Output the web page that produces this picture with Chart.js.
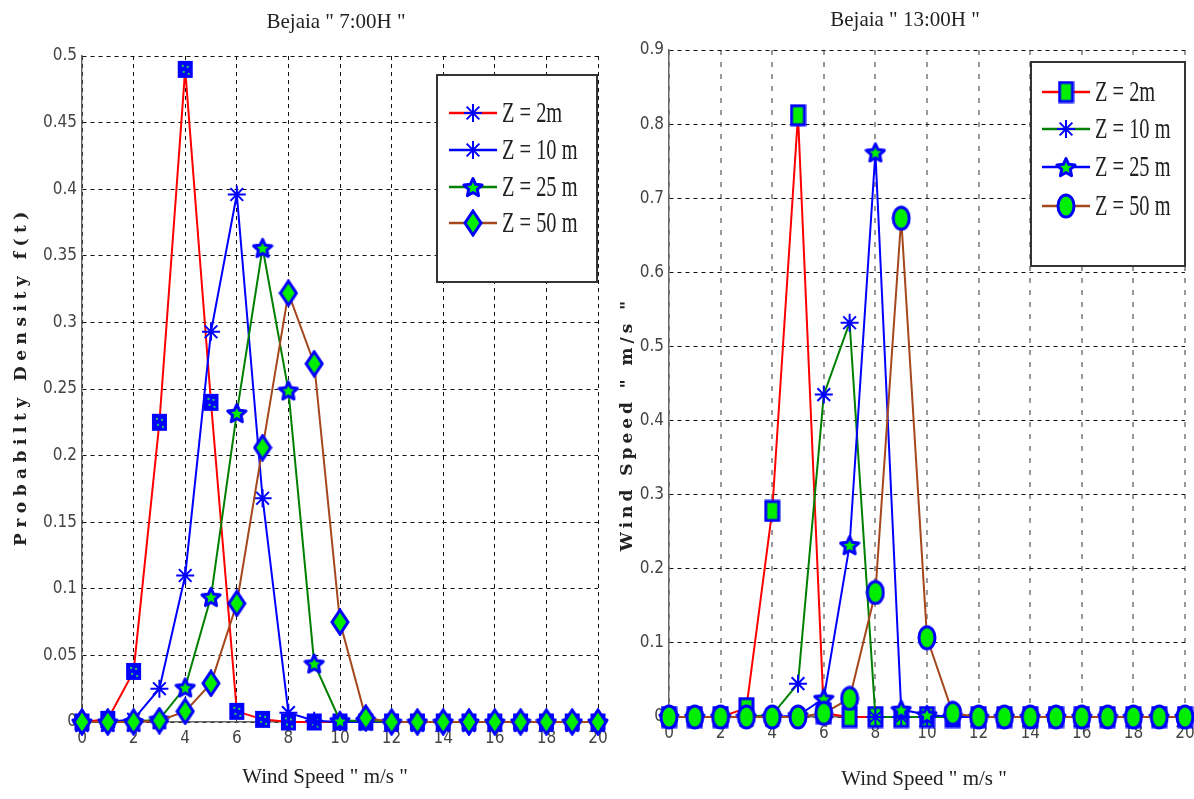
<!DOCTYPE html>
<html>
<head>
<meta charset="utf-8">
<script src="https://cdn.jsdelivr.net/npm/chart.js@4.4.0/dist/chart.umd.min.js"></script>
<style>
    html, body { margin: 0; padding: 0; background: #fff; overflow: hidden; }
    #wrap { position: relative; width: 1194px; height: 799px; overflow: hidden; }
    canvas { position: absolute; top: 0; }
    #c1 { left: 0; }
    #c2 { left: 605px; }
</style>
</head>
<body>
<div id="wrap">
    <canvas id="c1" width="609" height="799"></canvas>
    <canvas id="c2" width="591" height="799"></canvas>
</div>
<script>
// vitesses du vent (m/s)
const windSpeed = [0, 1, 2, 3, 4, 5, 6, 7, 8, 9, 10, 11, 12, 13, 14, 15, 16, 17, 18, 19, 20];
const seriesLabels = ['Z = 2m', 'Z = 10 m', 'Z = 25 m', 'Z = 50 m'];

// Bejaia 7:00H
const morning2m  = [0, 0.002, 0.038, 0.225, 0.49, 0.24, 0.008, 0.002, 0, 0, 0, 0, 0, 0, 0, 0, 0, 0, 0, 0, 0];
const morning10m = [0, 0, 0.002, 0.025, 0.11, 0.293, 0.396, 0.168, 0.007, 0.001, 0, 0, 0, 0, 0, 0, 0, 0, 0, 0, 0];
const morning25m = [0, 0, 0, 0.002, 0.026, 0.094, 0.232, 0.356, 0.249, 0.044, 0.001, 0.001, 0, 0, 0, 0, 0, 0, 0, 0, 0];
const morning50m = [0, 0, 0, 0.001, 0.008, 0.029, 0.089, 0.206, 0.322, 0.269, 0.075, 0.003, 0, 0, 0, 0, 0, 0, 0, 0, 0];

// Bejaia 13:00H
const noon2m  = [0, 0, 0, 0.012, 0.278, 0.812, 0.005, 0, 0, 0, 0, 0, 0, 0, 0, 0, 0, 0, 0, 0, 0];
const noon10m = [0, 0, 0, 0, 0.003, 0.045, 0.435, 0.532, 0, 0, 0, 0, 0, 0, 0, 0, 0, 0, 0, 0, 0];
const noon25m = [0, 0, 0, 0, 0, 0.002, 0.025, 0.232, 0.762, 0.01, 0.003, 0, 0, 0, 0, 0, 0, 0, 0, 0, 0];
const noon50m = [0, 0, 0, 0, 0, 0, 0.005, 0.025, 0.168, 0.673, 0.107, 0.005, 0, 0, 0, 0, 0, 0, 0, 0, 0];

const BLUE = '#0000ff';
const GREEN = '#00ee00';
const RED = '#ff0000';
const DKGREEN = '#008000';
const BROWN = '#a5471d';

function makeMarker(w, h, draw) {
    const c = document.createElement('canvas');
    c.width = w;
    c.height = h;
    draw(c.getContext('2d'), w, h);
    return c;
}

function pentagramPath(g, cx, cy, ro, ri) {
    g.beginPath();
    for (let i = 0; i < 10; i++) {
        const r = i % 2 === 0 ? ro : ri;
        const ang = -Math.PI / 2 + i * Math.PI / 5;
        const px = cx + r * Math.cos(ang), py = cy + r * Math.sin(ang);
        if (i === 0) g.moveTo(px, py); else g.lineTo(px, py);
    }
    g.closePath();
}

const pentagram = makeMarker(22, 22, (g, w, h) => {
    pentagramPath(g, w / 2, h / 2 + 1, 9.5, 4.5);
    g.fillStyle = GREEN;
    g.fill();
    g.strokeStyle = BLUE;
    g.lineWidth = 3;
    g.lineJoin = 'round';
    g.stroke();
});

const tallDiamond = makeMarker(20, 28, (g, w, h) => {
    g.beginPath();
    g.moveTo(w / 2, 2); g.lineTo(w - 2, h / 2); g.lineTo(w / 2, h - 2); g.lineTo(2, h / 2);
    g.closePath();
    g.fillStyle = GREEN;
    g.fill();
    g.strokeStyle = BLUE;
    g.lineWidth = 3;
    g.stroke();
});

const blueSquare = makeMarker(17, 19, (g, w, h) => {
    g.fillStyle = BLUE;
    g.fillRect(1, 1, w - 2, h - 2);
    g.fillStyle = '#22cc66';
    [[5, 5], [10, 6], [6, 11], [11, 13]].forEach(p => g.fillRect(p[0], p[1], 2, 2));
});

const greenRect = makeMarker(17, 23, (g, w, h) => {
    g.fillStyle = GREEN;
    g.fillRect(2, 2, w - 4, h - 4);
    g.strokeStyle = BLUE;
    g.lineWidth = 3;
    g.strokeRect(2, 2, w - 4, h - 4);
});

const greenEllipse = makeMarker(20, 26, (g, w, h) => {
    g.beginPath();
    g.ellipse(w / 2, h / 2, w / 2 - 2, h / 2 - 2, 0, 0, Math.PI * 2);
    g.fillStyle = GREEN;
    g.fill();
    g.strokeStyle = BLUE;
    g.lineWidth = 3;
    g.stroke();
});

function drawMarker(ctx, style, x, y) {
    if (style && typeof style === 'object') {
        ctx.drawImage(style, x - style.width / 2, y - style.height / 2);
        return;
    }
    // asterisque
    const r = 9;
    ctx.save();
    ctx.strokeStyle = BLUE;
    ctx.lineWidth = 2;
    ctx.beginPath();
    for (let i = 0; i < 4; i++) {
        const ang = i * Math.PI / 4;
        ctx.moveTo(x - r * Math.cos(ang), y - r * Math.sin(ang));
        ctx.lineTo(x + r * Math.cos(ang), y + r * Math.sin(ang));
    }
    ctx.stroke();
    ctx.restore();
}

// titres, légende
const decor = {
    id: 'decor',
    afterDraw(chart, args, o) {
        const ctx = chart.ctx;
        const a = chart.chartArea;
        ctx.save();
        ctx.fillStyle = '#222';
        ctx.textAlign = 'center';
        ctx.textBaseline = 'middle';
        ctx.font = '21px "Liberation Serif", serif';
        ctx.fillText(o.title, o.titleX, o.titleY);
        ctx.fillText(o.xTitle, o.xTitleX, o.xTitleY);

        ctx.save();
        ctx.translate(o.yTitleX, o.yTitleY);
        ctx.rotate(-Math.PI / 2);
        ctx.font = 'bold 17px "DejaVu Serif", serif';
        ctx.letterSpacing = o.yTitleSpacing;
        ctx.fillText(o.yTitle, 0, 0);
        ctx.restore();

        const L = o.legend;
        const bx = a.right - L.right - L.width;
        const by = a.top + L.top;
        ctx.fillStyle = '#fff';
        ctx.fillRect(bx, by, L.width, L.height);
        ctx.strokeStyle = '#333';
        ctx.lineWidth = 2;
        ctx.strokeRect(bx, by, L.width, L.height);

        chart.data.datasets.forEach((ds, i) => {
            const y = by + L.rows[i];
            ctx.strokeStyle = ds.borderColor;
            ctx.lineWidth = 2.5;
            ctx.beginPath();
            ctx.moveTo(bx + L.lineFrom, y);
            ctx.lineTo(bx + L.lineTo, y);
            ctx.stroke();
            drawMarker(ctx, ds.legendMarker || ds.pointStyle, bx + (L.lineFrom + L.lineTo) / 2, y);

            ctx.save();
            ctx.translate(bx + L.textX, y);
            ctx.scale(0.68, 1);
            ctx.fillStyle = '#222';
            ctx.textAlign = 'left';
            ctx.font = '30px "Liberation Serif", serif';
            ctx.fillText(ds.label, 0, 1);
            ctx.restore();
        });
        ctx.restore();
    }
};

function makeDataset(label, values, color, marker, order, extra) {
    return Object.assign({
        label: label,
        data: values.map((v, i) => ({ x: windSpeed[i], y: v })),
        borderColor: color,
        borderWidth: 2,
        pointStyle: marker,
        pointRadius: 9,
        pointBorderColor: BLUE,
        pointBackgroundColor: BLUE,
        pointBorderWidth: 2,
        clip: false,
        order: order
    }, extra || {});
}

const tickFont = { family: '"Liberation Sans Narrow", "DejaVu Sans Condensed", sans-serif', size: 17 };

function buildOptions(cfg) {
    return {
        responsive: false,
        animation: false,
        layout: { padding: { top: cfg.top, right: cfg.right, bottom: 0, left: 0 } },
        scales: {
            x: {
                type: 'linear',
                min: 0,
                max: 20,
                afterFit: s => {
                    s.height = cfg.bottom;
                    s.paddingLeft = 0;
                    s.paddingRight = 0;
                },
                ticks: { stepSize: 2, color: '#444', font: tickFont, padding: 6 },
                grid: { color: cfg.xGridColor, lineWidth: cfg.xGridWidth, drawTicks: false },
                border: { display: true, color: '#666', width: 1.5, dash: cfg.xDash }
            },
            y: {
                min: 0,
                max: cfg.yMax,
                afterFit: s => {
                    s.width = cfg.left;
                    s.paddingTop = 0;
                    s.paddingBottom = 0;
                },
                ticks: {
                    stepSize: cfg.yStep,
                    color: '#444',
                    font: tickFont,
                    padding: 5,
                    callback: v => String(Number(v.toFixed(2)))
                },
                grid: { color: '#111', lineWidth: 1, drawTicks: false },
                border: { display: true, color: '#666', width: 1.5, dash: [4, 4] }
            }
        },
        plugins: {
            legend: { display: false },
            tooltip: { enabled: false },
            decor: cfg.decor
        }
    };
}

new Chart(document.getElementById('c1').getContext('2d'), {
    type: 'line',
    data: {
        datasets: [
            makeDataset(seriesLabels[0], morning2m, RED, blueSquare, 4, { legendMarker: 'star' }),
            makeDataset(seriesLabels[1], morning10m, BLUE, 'star', 3),
            makeDataset(seriesLabels[2], morning25m, DKGREEN, pentagram, 2),
            makeDataset(seriesLabels[3], morning50m, BROWN, tallDiamond, 1)
        ]
    },
    options: buildOptions({
        top: 56, right: 3, bottom: 77, left: 82,
        yMax: 0.5, yStep: 0.05,
        xGridColor: '#111', xGridWidth: 1, xDash: [4, 4],
        decor: {
            title: 'Bejaia " 7:00H "', titleX: 336, titleY: 22,
            xTitle: 'Wind Speed " m/s "', xTitleX: 325, xTitleY: 777,
            yTitle: 'Probabilty Density f(t)', yTitleX: 22, yTitleY: 376, yTitleSpacing: '5.5px',
            legend: { right: 1, top: 19, width: 160, height: 207, rows: [38, 75, 112, 148], lineFrom: 12, lineTo: 60, textX: 65 }
        }
    }),
    plugins: [decor]
});

new Chart(document.getElementById('c2').getContext('2d'), {
    type: 'line',
    data: {
        datasets: [
            makeDataset(seriesLabels[0], noon2m, RED, greenRect, 4),
            makeDataset(seriesLabels[1], noon10m, DKGREEN, 'star', 3),
            makeDataset(seriesLabels[2], noon25m, BLUE, pentagram, 2),
            makeDataset(seriesLabels[3], noon50m, BROWN, greenEllipse, 1)
        ]
    },
    options: buildOptions({
        top: 50, right: 7, bottom: 82, left: 64,
        yMax: 0.9, yStep: 0.1,
        xGridColor: '#999', xGridWidth: 2, xDash: [5, 7],
        decor: {
            title: 'Bejaia " 13:00H "', titleX: 300, titleY: 20,
            xTitle: 'Wind Speed " m/s "', xTitleX: 319, xTitleY: 779,
            yTitle: 'Wind Speed " m/s "', yTitleX: 23, yTitleY: 424, yTitleSpacing: '4px',
            legend: { right: 0, top: 12, width: 154, height: 204, rows: [30, 67, 105, 144], lineFrom: 11, lineTo: 59, textX: 64 }
        }
    }),
    plugins: [decor]
});
</script>
</body>
</html>
